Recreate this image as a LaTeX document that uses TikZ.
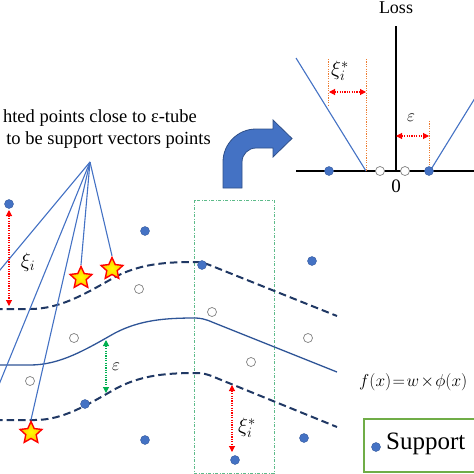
\documentclass[tikz,border=0pt]{standalone}
\usepackage{fontspec}
\setmainfont{Liberation Serif}
\usetikzlibrary{shapes.geometric,arrows.meta}
\definecolor{sblue}{HTML}{4472C4}
\definecolor{dblue}{HTML}{203864}
\definecolor{mblue}{HTML}{2F5597}
\definecolor{sred}{HTML}{FF0000}
\definecolor{sorange}{HTML}{ED7D31}
\definecolor{sgreen}{HTML}{00B050}
\definecolor{boxgreen}{HTML}{70AD47}
\definecolor{tealg}{HTML}{5DBB8A}
\definecolor{starfill}{HTML}{FFC000}
\begin{document}
\begin{tikzpicture}[x=1pt,y=-1pt,
  sv/.style={circle,fill=sblue,draw=sblue!80!black,line width=0.4pt,inner sep=0pt,minimum size=9pt},
  nsv/.style={circle,draw=gray,line width=0.7pt,fill=white,inner sep=0pt,minimum size=9pt},
  hstar/.style={star,star points=5,star point ratio=2.1,draw=sred,inner color=yellow,outer color=starfill,line width=1.4pt,inner sep=0pt,minimum size=23pt},
  fan/.style={draw=sblue,line width=1.1pt},
  tube/.style={draw=dblue,line width=2pt,dash pattern=on 7.5pt off 4pt},
  mid/.style={draw=mblue,line width=1.3pt},
  redarr/.style={draw=sred,line width=1.1pt,dash pattern=on 1.2pt off 1.2pt,{Triangle[length=6pt,width=6pt]}-{Triangle[length=6pt,width=6pt]}},
  grnarr/.style={draw=sgreen,line width=1.1pt,dash pattern=on 1.2pt off 1.2pt,{Triangle[length=6pt,width=6pt,fill=sgreen]}-{Triangle[length=6pt,width=6pt,fill=sgreen]}},
  orln/.style={draw=sorange,line width=1pt,dash pattern=on 1.2pt off 1.2pt},
  lossln/.style={draw=sblue,line width=1.1pt},
  axisln/.style={draw=black,line width=1.5pt},
  lbl/.style={inner sep=0pt}]
\useasboundingbox (0,0) rectangle (474,474);
\clip (0,0) rectangle (474,474);

% text
\node[lbl,anchor=base east,font=\fontsize{18.5}{22}\selectfont] (t1) at (197,122) {hted points close to ε-tube};
\node[lbl,anchor=base east,font=\fontsize{18.5}{22}\selectfont] (t2) at (211,144) {to be support vectors points};

% green dotted box
\draw[tealg,line width=0.8pt,dash pattern=on 3pt off 1.5pt on 1pt off 1.5pt] (194,200) rectangle (274,473);

% tubes
\draw[tube] (-5,309) -- (30,309) .. controls (60,309) and (85,294) .. (115,277) .. controls (140,264) and (165,262) .. (195,262) .. controls (200,262) and (205,263) .. (212,266) -- (337,316);
\draw[mid] (-5,365) -- (30,365) .. controls (60,365) and (85,350) .. (115,333) .. controls (140,320) and (165,318) .. (195,318) .. controls (200,318) and (205,319) .. (212,322) -- (337,372);
\draw[tube] (-5,420) -- (35,420) .. controls (63,420) and (87,405) .. (117,388) .. controls (142,375) and (167,373) .. (197,373) .. controls (202,373) and (207,374) .. (214,377) -- (337,427);

% stars
\node[hstar] (s1) at (81,278) {};
\node[hstar] (s2) at (112,269) {};
\node[hstar] (s3) at (31,433) {};

% fan
\coordinate (apex) at (90,162);
\coordinate (l1) at (-20,294);
\coordinate (l2) at (-20,431);
\draw[fan] (apex) -- (l1);
\draw[fan] (apex) -- (l2);
\draw[fan] (apex) -- (s3.north);
\draw[fan] (apex) -- (s1.north);
\draw[fan] (apex) -- (s2.north);

% points
\node[sv] (p1) at (9,204) {};
\node[sv] (p2) at (145,231) {};
\node[sv] (p3) at (202,265) {};
\node[sv] (p4) at (312,261) {};
\node[sv] (p5) at (85,404) {};
\node[sv] (p6) at (145,440) {};
\node[sv] (p7) at (235,460) {};
\node[sv] (p8) at (304,438) {};
\node[nsv] (q1) at (139,289) {};
\node[nsv] (q2) at (212,312) {};
\node[nsv] (q3) at (74,338) {};
\node[nsv] (q4) at (30,381) {};
\node[nsv] (q5) at (251,362) {};
\node[nsv] (q6) at (308,338) {};

% arrows in main plot
\coordinate (a1t) at (9,210);
\coordinate (a1b) at (9,306);
\draw[redarr] (a1t) -- (a1b);
\node[lbl,font=\fontsize{20}{22}\selectfont] (xi1) at (28,262) {$\xi_i$};
\coordinate (a2t) at (106,340);
\coordinate (a2b) at (106,393);
\draw[grnarr] (a2t) -- (a2b);
\node[lbl,font=\fontsize{19}{22}\selectfont] (eps1) at (116,367) {$\varepsilon$};
\coordinate (a3t) at (232,385);
\coordinate (a3b) at (232,452);
\draw[redarr] (a3t) -- (a3b);
\node[lbl,font=\fontsize{20}{22}\selectfont] (xi2) at (247,428) {$\xi_i^*$};

% bent arrow
\filldraw[fill=sblue,draw=sblue!70!black,line width=0.8pt]
  (223,188) -- (223,162) .. controls (223,143.8) and (237.8,129) .. (256,129)
  -- (273,129) -- (273,120) -- (292,138.5) -- (273,157) -- (273,148) -- (256,148)
  .. controls (248.3,148) and (242,154.3) .. (242,162) -- (242,188) -- cycle;

% loss plot
\coordinate (hx0) at (296,171);
\coordinate (hx1) at (480,171);
\coordinate (vy0) at (396,171);
\coordinate (vy1) at (396,26);
\draw[axisln] (hx0) -- (hx1);
\draw[axisln] (vy0) -- (vy1);
\node[lbl,font=\fontsize{18}{20}\selectfont] (loss) at (396,8) {Loss};
\node[lbl,font=\fontsize{19}{20}\selectfont] (zero) at (396,186) {0};
\coordinate (ll0) at (296,58);
\coordinate (ll1) at (366,171);
\coordinate (rl0) at (430,171);
\coordinate (rl1) at (480,90);
\draw[lossln] (ll0) -- (ll1);
\draw[lossln] (rl0) -- (rl1);
\coordinate (o1a) at (328,59);
\coordinate (o1b) at (328,105);
\coordinate (o2a) at (366,59);
\coordinate (o2b) at (366,171);
\coordinate (o3a) at (429,121);
\coordinate (o3b) at (429,171);
\draw[orln] (o1a) -- (o1b);
\draw[orln] (o2a) -- (o2b);
\draw[orln] (o3a) -- (o3b);
\coordinate (h1a) at (329,92);
\coordinate (h1b) at (366,92);
\draw[redarr] (h1a) -- (h1b);
\node[lbl,font=\fontsize{20}{22}\selectfont] (xi3) at (340,71) {$\xi_i^*$};
\coordinate (h2a) at (396,136);
\coordinate (h2b) at (429,136);
\draw[redarr] (h2a) -- (h2b);
\node[lbl,font=\fontsize{19}{22}\selectfont] (eps2) at (411,118) {$\varepsilon$};
\node[sv] (lp1) at (329,171) {};
\node[sv] (lp2) at (429,171) {};
\node[nsv] (lq1) at (380,171) {};
\node[nsv] (lq2) at (405,171) {};

% formula
\node[lbl,anchor=base west,font=\fontsize{17.5}{20}\selectfont] (fx) at (359,386) {$f(x)\mskip1.5mu{=}\mskip1.5mu w\mskip1.5mu{\times}\mskip1.5mu\phi(x)$};

% legend
\draw[boxgreen,line width=1.6pt] (364,419) rectangle (490,472);
\node[sv] (legdot) at (376,447) {};
\node[lbl,anchor=base west,font=\fontsize{25}{28}\selectfont] (sup) at (386,449) {Support};
\end{tikzpicture}
\end{document}
